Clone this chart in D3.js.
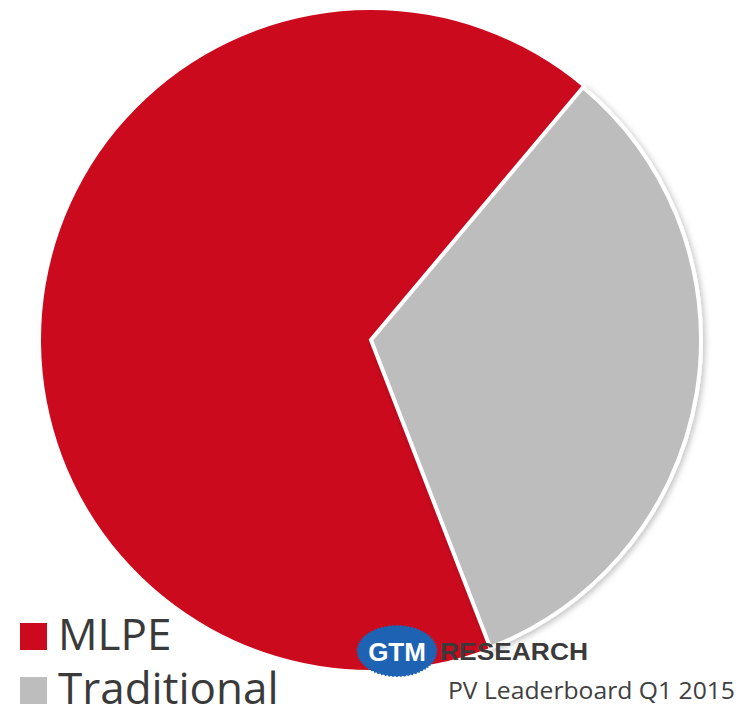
<!DOCTYPE html>
<html>
<head>
<meta charset="utf-8">
<script src="https://cdn.jsdelivr.net/npm/d3@7"></script>
<style>
  body { margin: 0; background: #fff; }
  text { font-family: "Open Sans", sans-serif; }
</style>
</head>
<body>
<div id="chart"></div>
<script>
// data
const categories = ["MLPE", "Traditional"];
const shares = [67, 33];
const colors = ["#cc0a1e", "#bdbdbd"];

const width = 746, height = 712;
const cx = 371, cy = 340, radius = 330;

const svg = d3.select("#chart")
  .append("svg")
  .attr("width", width)
  .attr("height", height);

const defs = svg.append("defs");
const shadow = defs.append("filter").attr("id", "shadow")
  .attr("x", "-10%").attr("y", "-10%").attr("width", "120%").attr("height", "120%");
shadow.append("feDropShadow")
  .attr("dx", 2).attr("dy", 2).attr("stdDeviation", 3)
  .attr("flood-color", "#000").attr("flood-opacity", 0.25);

// Traditional slice begins at about 40deg clockwise from 12 o'clock
const tradStart = 40 * Math.PI / 180;
const start = tradStart + shares[1] / d3.sum(shares) * 2 * Math.PI;

const pie = d3.pie()
  .sort(null)
  .value(d => d.value)
  .startAngle(start)
  .endAngle(start + 2 * Math.PI);

const arc = d3.arc().innerRadius(0).outerRadius(radius);

const data = categories.map((c, i) => ({ name: c, value: shares[i], color: colors[i] }));

const g = svg.append("g").attr("transform", "translate(" + cx + "," + cy + ")");

g.selectAll(".slice")
  .data(pie(data))
  .enter()
  .append("path")
  .attr("class", "slice")
  .attr("d", arc)
  .style("fill", d => d.data.color)
  .style("stroke", (d, i) => i === 1 ? "#fff" : "none")
  .style("stroke-width", 4)
  .style("stroke-linejoin", "miter")
  .attr("filter", (d, i) => i === 1 ? "url(#shadow)" : null);

// legend
const legend = svg.append("g");
const rows = legend.selectAll(".row")
  .data(data)
  .enter()
  .append("g")
  .attr("class", "row")
  .attr("transform", (d, i) => "translate(20," + (650 + i * 54) + ")");

rows.append("rect")
  .attr("x", 0).attr("y", -27)
  .attr("width", 27).attr("height", 27)
  .style("fill", d => d.color);

rows.append("text")
  .attr("x", 38).attr("y", 0)
  .style("font-size", "44px")
  .style("fill", "#3a3a3a")
  .text(d => d.name);

// GTM Research logo
const logo = svg.append("g").attr("transform", "translate(397,651)");
const teeth = 64;
const ring = d3.range(teeth * 2).map(k => {
  const a = k / (teeth * 2) * 2 * Math.PI;
  const r = k % 2 ? 1 : 1.05;
  return [Math.cos(a) * 39 * r, Math.sin(a) * 25 * r];
});
logo.append("path")
  .attr("d", d3.line().curve(d3.curveLinearClosed)(ring))
  .style("fill", "#1d62b3");
logo.append("text")
  .attr("x", 0).attr("y", 10)
  .attr("text-anchor", "middle")
  .style("font-family", "'Liberation Sans', Arial, sans-serif")
  .style("font-weight", "bold")
  .style("font-size", "26px")
  .style("fill", "#fff")
  .text("GTM");
svg.append("text")
  .attr("x", 440).attr("y", 660)
  .style("font-family", "'Liberation Sans', Arial, sans-serif")
  .style("font-weight", "bold")
  .style("font-size", "24px")
  .style("fill", "#3a3a3a")
  .attr("textLength", 148)
  .attr("lengthAdjust", "spacingAndGlyphs")
  .text("RESEARCH");

svg.append("text")
  .attr("x", 448).attr("y", 699)
  .style("font-size", "24px")
  .style("fill", "#404040")
  .attr("textLength", 287)
  .attr("lengthAdjust", "spacingAndGlyphs")
  .text("PV Leaderboard Q1 2015");
</script>
</body>
</html>
